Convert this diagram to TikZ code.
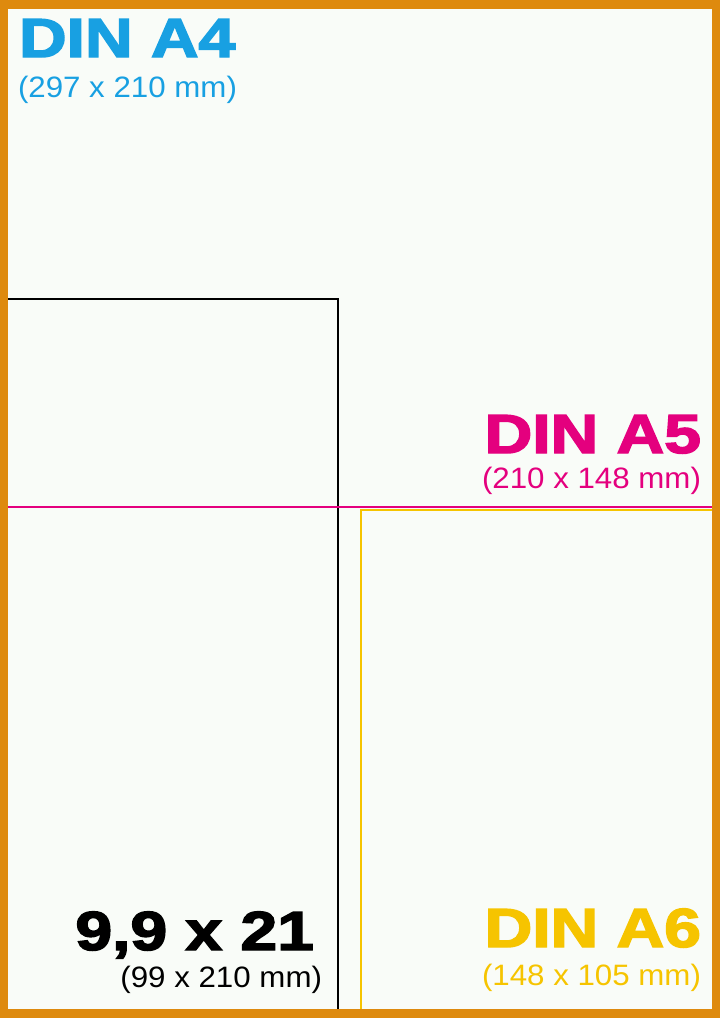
\documentclass[tikz,border=0pt]{standalone}
\usepackage{fontspec}
\setmainfont{Liberation Sans}
\newfontfamily\heavy{Liberation Sans}[BoldFeatures={FakeBold=2.6}]
\definecolor{frameorange}{RGB}{222,138,14}
\definecolor{paper}{RGB}{249,252,248}
\definecolor{aqua}{RGB}{24,160,226}
\definecolor{magent}{RGB}{228,0,126}
\definecolor{gold}{RGB}{246,196,0}
\newcommand\hd[1]{\scalebox{1.2}[1]{\heavy\bfseries\fontsize{55}{60}\selectfont #1}}
\newcommand\sub[1]{\scalebox{1.06}[1]{\fontsize{29.5}{32}\selectfont #1}}
\begin{document}
\begin{tikzpicture}[x=1pt,y=-1pt,
  lbl/.style={inner sep=0pt, outer sep=0pt},
  edge/.style={line width=1.9pt}]
\useasboundingbox (0,0) rectangle (720,1018);
\fill[frameorange] (0,0) rectangle (720,1018);
\fill[paper] (8,9) rectangle (712,1009);
% corner coordinates
\coordinate (bl) at (8,299);
\coordinate (bc) at (338,299);
\coordinate (bb) at (338,1009);
\coordinate (ml) at (8,507);
\coordinate (mr) at (712,507);
\coordinate (yt) at (361,510);
\coordinate (yr) at (712,510);
\coordinate (yb) at (361,1009);
\draw[edge, black] (bl) -- (bc) -- (bb);
\draw[edge, magent] (ml) -- (mr);
\draw[edge, gold] (yb) -- (yt) -- (yr);
% labels
\node[lbl, anchor=base west, text=aqua] (a4) at (19,57) {\hd{DIN A4}};
\node[lbl, anchor=base west, text=aqua] (a4s) at (18,97) {\sub{(297 x 210 mm)}};
\node[lbl, anchor=base east, text=magent] (a5) at (701,453) {\hd{DIN A5}};
\node[lbl, anchor=base east, text=magent] (a5s) at (701,488) {\sub{(210 x 148 mm)}};
\node[lbl, anchor=base east, text=black] (dl) at (314,950) {\hd{9,9 x 21}};
\node[lbl, anchor=base east, text=black] (dls) at (322,987) {\sub{(99 x 210 mm)}};
\node[lbl, anchor=base east, text=gold] (a6) at (701,947) {\hd{DIN A6}};
\node[lbl, anchor=base east, text=gold] (a6s) at (701,985) {\sub{(148 x 105 mm)}};
\end{tikzpicture}
\end{document}
